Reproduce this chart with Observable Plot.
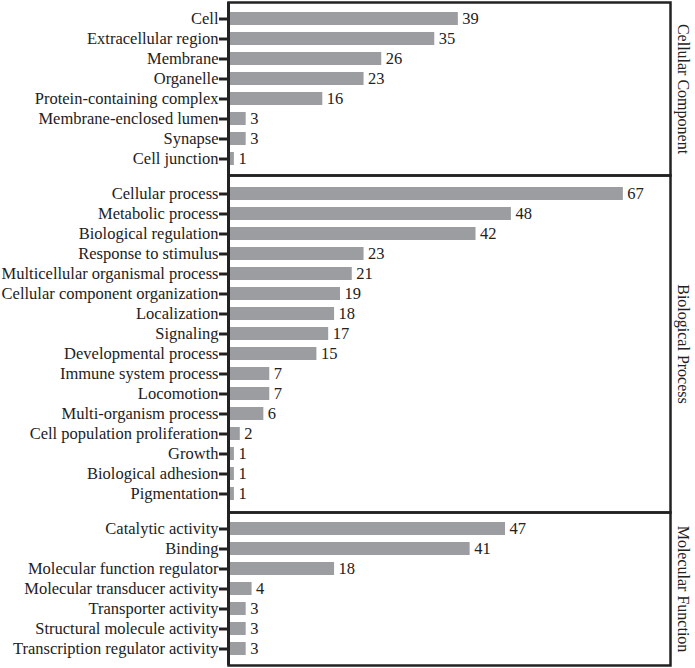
<!DOCTYPE html>
<html>
<head>
<meta charset="utf-8">
<script src="https://cdn.jsdelivr.net/npm/d3@7"></script>
<script src="https://cdn.jsdelivr.net/npm/@observablehq/plot@0.6"></script>
<style>
  html, body { margin: 0; padding: 0; background: #fff; }
  #chart { width: 695px; height: 668px; position: relative; }
  #chart svg { display: block; background: transparent !important; overflow: visible; font-family: "Liberation Serif", "Times New Roman", serif !important; }
  #chart svg text { font-family: "Liberation Serif", "Times New Roman", serif !important; }
</style>
</head>
<body>
<div id="chart"></div>
<script>
const ccTerms = ["Cell", "Extracellular region", "Membrane", "Organelle", "Protein-containing complex", "Membrane-enclosed lumen", "Synapse", "Cell junction"];
const ccCounts = [39, 35, 26, 23, 16, 3, 3, 1];

const bpTerms = ["Cellular process", "Metabolic process", "Biological regulation", "Response to stimulus", "Multicellular organismal process", "Cellular component organization", "Localization", "Signaling", "Developmental process", "Immune system process", "Locomotion", "Multi-organism process", "Cell population proliferation", "Growth", "Biological adhesion", "Pigmentation"];
const bpCounts = [67, 48, 42, 23, 21, 19, 18, 17, 15, 7, 7, 6, 2, 1, 1, 1];

const mfTerms = ["Catalytic activity", "Binding", "Molecular function regulator", "Molecular transducer activity", "Transporter activity", "Structural molecule activity", "Transcription regulator activity"];
const mfCounts = [47, 41, 18, 4, 3, 3, 3];

const panelNames = ["Cellular Component", "Biological Process", "Molecular Function"];

const panels = [
  {name: panelNames[0], terms: ccTerms, counts: ccCounts, inner: 173},
  {name: panelNames[1], terms: bpTerms, counts: bpCounts, inner: 337},
  {name: panelNames[2], terms: mfTerms, counts: mfCounts, inner: 153}
];

const font = "Liberation Serif";
const barColor = "#9c9da1";
const step = 20.3;
const container = document.getElementById("chart");

panels.forEach((p, i) => {
  const data = p.terms.map((t, j) => ({term: t, count: p.counts[j]}));
  const n = p.terms.length;
  const pInner = 0.35;
  const pOuter = ((p.inner / step) - n + pInner) / 2;
  const chart = Plot.plot({
    width: 695,
    height: p.inner + 4,
    marginTop: 2,
    marginBottom: 2,
    marginLeft: 228,
    marginRight: 25,
    style: {fontFamily: font, fontSize: "16.5px", color: "#222", background: "transparent"},
    x: {domain: [0, 75], axis: null},
    y: {domain: p.terms, paddingInner: pInner, paddingOuter: pOuter, axis: null},
    marks: [
      Plot.barX(data, {x: "count", y: "term", fill: barColor, insetLeft: 1.5}),
      Plot.text(data, {x: "count", y: "term", text: d => String(d.count), textAnchor: "start", dx: 4, fill: "#222", fontSize: 16.5, fontFamily: font}),
      Plot.axisY({tickSize: 9, tickPadding: 1, strokeWidth: 3, stroke: "#222", fontSize: 16.5, fontFamily: font, fill: "#222", label: null}),
      Plot.frame({stroke: "#222", strokeWidth: 2.5}),
      Plot.ruleX([0], {stroke: "#222", strokeWidth: 3}),
      Plot.text([p.name], {frameAnchor: "right", rotate: 90, dx: 13, textAnchor: "middle", lineAnchor: "middle", fontSize: 16, fontFamily: font, fill: "#222"})
    ]
  });
  if (i > 0) chart.style.marginTop = "-4px";
  container.appendChild(chart);
});
</script>
</body>
</html>
